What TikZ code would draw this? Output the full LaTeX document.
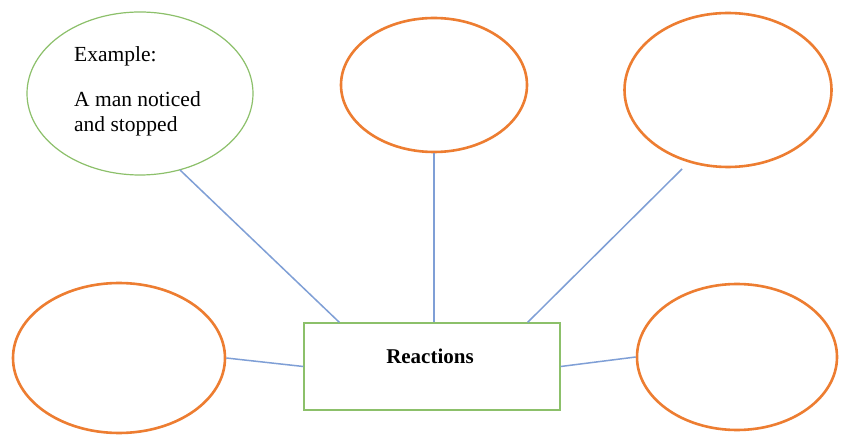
\documentclass[tikz,border=0pt]{standalone}
\usepackage{fontspec}
\setmainfont{Liberation Serif}
\usetikzlibrary{shapes.geometric,calc}
\definecolor{orng}{HTML}{ED7D31}
\definecolor{grn}{HTML}{8CC06A}
\definecolor{blu}{HTML}{7F9FD6}
\begin{document}
\begin{tikzpicture}[x=1pt,y=-1pt,
  oval/.style={ellipse,draw=orng,line width=2.6pt,inner sep=0pt},
  goval/.style={ellipse,draw=grn,line width=1.2pt,inner sep=0pt},
  box/.style={rectangle,draw=grn,line width=1.3pt,inner sep=0pt},
  conn/.style={draw=blu,line width=1.5pt},
  txt/.style={inner sep=0pt,font=\fontsize{21.5}{25}\selectfont}]
\useasboundingbox[fill=white] (0,0) rectangle (843,435);
\node[goval,minimum width=226pt,minimum height=163pt] (ex) at (140,93.5) {};
\node[oval,minimum width=186pt,minimum height=134pt] (tm) at (434,85) {};
\node[oval,minimum width=207pt,minimum height=154pt] (tr) at (728,90) {};
\node[oval,minimum width=212pt,minimum height=150pt] (bl) at (119,358) {};
\node[oval,minimum width=200pt,minimum height=146pt] (br) at (737,357) {};
\node[box,minimum width=256pt,minimum height=87pt] (rect) at (432,366.5) {};
\node[txt,anchor=base west] (t1) at (74,62) {Example:};
\node[txt,anchor=base west] (t2) at (74,107) {A man noticed};
\node[txt,anchor=base west] (t3) at (74,132) {and stopped};
\node[txt,anchor=base,font=\fontsize{21}{25}\selectfont\bfseries] (rt) at (430,363) {Reactions};
\coordinate (g1) at (180,170);
\coordinate (r1) at (682,169);
\draw[conn] (g1) -- ($(rect.north west)+(36,0)$);
\draw[conn] (tm.south) -- (tm.south |- rect.north);
\draw[conn] (r1) -- ($(rect.north east)+(-33,0)$);
\draw[conn] (bl.east) -- (rect.west);
\draw[conn] (rect.east) -- (br.west);
\end{tikzpicture}
\end{document}
